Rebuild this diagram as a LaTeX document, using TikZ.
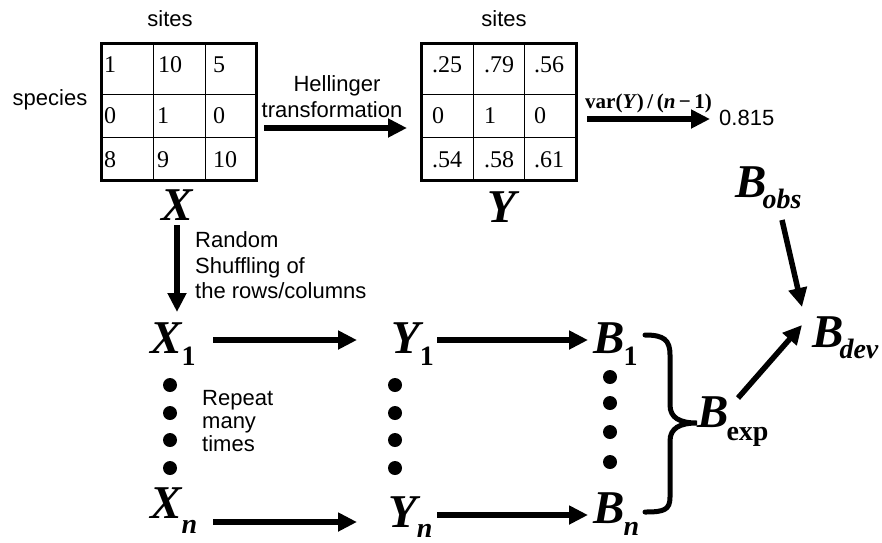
\documentclass[tikz,border=0pt]{standalone}
\usepackage{fontspec}
\setmainfont{Liberation Serif}
\newfontfamily\arialf{Liberation Sans}
\usetikzlibrary{arrows.meta,calc}
\newcommand\biglab[4]{{\fontsize{47}{47}\selectfont\bfseries\itshape #1}\kern#4\raisebox{-#2}{\fontsize{28}{28}\selectfont\bfseries #3}}
\begin{document}
\begin{tikzpicture}[x=1pt,y=-1pt,
  lab/.style={font=\arialf\fontsize{22}{22}\selectfont, inner sep=0pt, anchor=base west},
  labc/.style={font=\arialf\fontsize{22}{22}\selectfont, inner sep=0pt, anchor=base},
  cell/.style={font=\fontsize{24}{24}\selectfont, inner sep=0pt, anchor=base west},
  grid/.style={draw, line width=3pt, minimum width=155pt, minimum height=137pt, inner sep=0pt},
  big/.style={inner sep=0pt, anchor=base west, text height=32pt, text depth=0pt},
  arr/.style={line width=5.5pt, -{Triangle[length=19pt,width=18pt]}},
  dot/.style={circle, fill=black, inner sep=0pt, minimum size=14pt},
  brace/.style={line width=5pt, line cap=round}]
\useasboundingbox (0,0) rectangle (882,542);

% ---------- matrix X ----------
\node[grid] (gridX) at (178.5,111.5) {};
\draw[line width=1pt] (153,43) -- (153,180) (205,43) -- (205,180) (101,94) -- (256,94) (101,137) -- (256,137);
\node[cell] (x11) at (104,72) {1};
\node[cell] (x12) at (158,72) {10};
\node[cell] (x13) at (213,72) {5};
\node[cell] (x21) at (104,123) {0};
\node[cell] (x22) at (157,123) {1};
\node[cell] (x23) at (213,123) {0};
\node[cell] (x31) at (104,167) {8};
\node[cell] (x32) at (157,167) {9};
\node[cell] (x33) at (213,167) {10};
\node[labc] (sitesX) at (170,26) {sites};
\node[labc] (species) at (50,105) {species};
\node[big, anchor=base] (Xlab) at (177,220) {\biglab{X}{0pt}{}{0pt}};

% ---------- matrix Y ----------
\node[grid] (gridY) at (498.5,111.5) {};
\draw[line width=1pt] (473,43) -- (473,180) (524,43) -- (524,180) (421,94) -- (576,94) (421,137) -- (576,137);
\node[cell] (y11) at (432,72) {.25};
\node[cell] (y12) at (484,72) {.79};
\node[cell] (y13) at (534,72) {.56};
\node[cell] (y21) at (432,123) {0};
\node[cell] (y22) at (484,123) {1};
\node[cell] (y23) at (534,123) {0};
\node[cell] (y31) at (432,167) {.54};
\node[cell] (y32) at (484,167) {.58};
\node[cell] (y33) at (534,167) {.61};
\node[labc] (sitesY) at (504,26) {sites};
\node[big, anchor=base] (Ylab) at (502,222) {\biglab{Y}{0pt}{}{0pt}};

% Hellinger
\node[labc] (hel1) at (337,91) {Hellinger};
\node[labc] (hel2) at (332,117) {transformation};
\draw[arr] ($(gridX.east)+(6.5,16.5)$) -- ($(gridY.west)+(-12.5,16.5)$);

% variance
\node[inner sep=0pt, anchor=base west, font=\fontsize{21}{21}\selectfont\bfseries] (varlab) at (585,108) {var(\textit{Y})\,/\,(\textit{n}\,−\,1)};
\node[lab] (val) at (719,125) {0.815};
\draw[arr] ($(gridY.east)+(9.5,7.5)$) -- ($(val.base west)+(-9,-6)$);

% shuffling
\node[lab] (r1) at (195,247) {Random};
\node[lab] (r2) at (195,273) {Shuffling of};
\node[lab] (r3) at (195,298) {the rows/columns};

% big labels
\node[big] (X1) at (150,353) {\biglab{X}{12pt}{1}{0pt}};
\node[big] (Xn) at (150,518) {\biglab{X}{15pt}{\itshape n}{0pt}};
\node[big] (Y1) at (391,353) {\biglab{Y}{12pt}{1}{0pt}};
\node[big] (Yn) at (388,527) {\biglab{Y}{10pt}{\itshape n}{0pt}};
\node[big] (B1) at (593,353) {\biglab{B}{12pt}{1}{-1pt}};
\node[big] (Bn) at (593,523) {\biglab{B}{12pt}{\itshape n}{-1pt}};
\node[big] (Bobs) at (735,197) {\biglab{B}{11pt}{\itshape obs}{-4pt}};
\node[big] (Bdev) at (812,347) {\biglab{B}{11pt}{\itshape dev}{-4pt}};
\node[big] (Bexp) at (697,427) {\biglab{B}{13pt}{exp}{-2pt}};

\draw[arr] ($(Xlab.base)+(0,5)$) -- ($(X1.base west)+(27,-41)$);

% repeat
\node[lab] (rp1) at (202,405) {Repeat};
\node[lab] (rp2) at (202,428) {many};
\node[lab] (rp3) at (202,451) {times};

% dots
\foreach \yy [count=\i] in {385,413,440,468} {
  \node[dot] (dx\i) at (170,\yy) {};
  \node[dot] (dy\i) at (395,\yy) {};
}
\foreach \yy [count=\i] in {377,403,432,462} {
  \node[dot] (db\i) at (610,\yy) {};
}

% arrows
\draw[arr] ($(X1.base west)+(63,-13)$) -- ($(Y1.base west)+(-34,-13)$);
\draw[arr] ($(Xn.base west)+(63,4)$) -- ($(Yn.base west)+(-31,-5)$);
\draw[arr] ($(Y1.base west)+(46,-13)$) -- ($(B1.base west)+(-5,-13)$);
\draw[arr] ($(Yn.base west)+(49,-12)$) -- ($(Bn.base west)+(-5,-8)$);
\draw[arr] ($(Bobs.base west)+(47,23)$) -- ($(Bdev.base west)+(-10,-40)$);
\draw[arr] ($(Bexp.base west)+(41,-29)$) -- ($(Bdev.base west)+(-10,-22)$);

% brace
\draw[brace] (645,335) .. controls (664,335) and (670,340) .. (670,355) -- (670,405)
  .. controls (670,418) and (680,423) .. (697,423)
  .. controls (680,423) and (670,428) .. (670,441) -- (670,497)
  .. controls (670,510) and (664,512) .. (645,512);
\end{tikzpicture}
\end{document}
